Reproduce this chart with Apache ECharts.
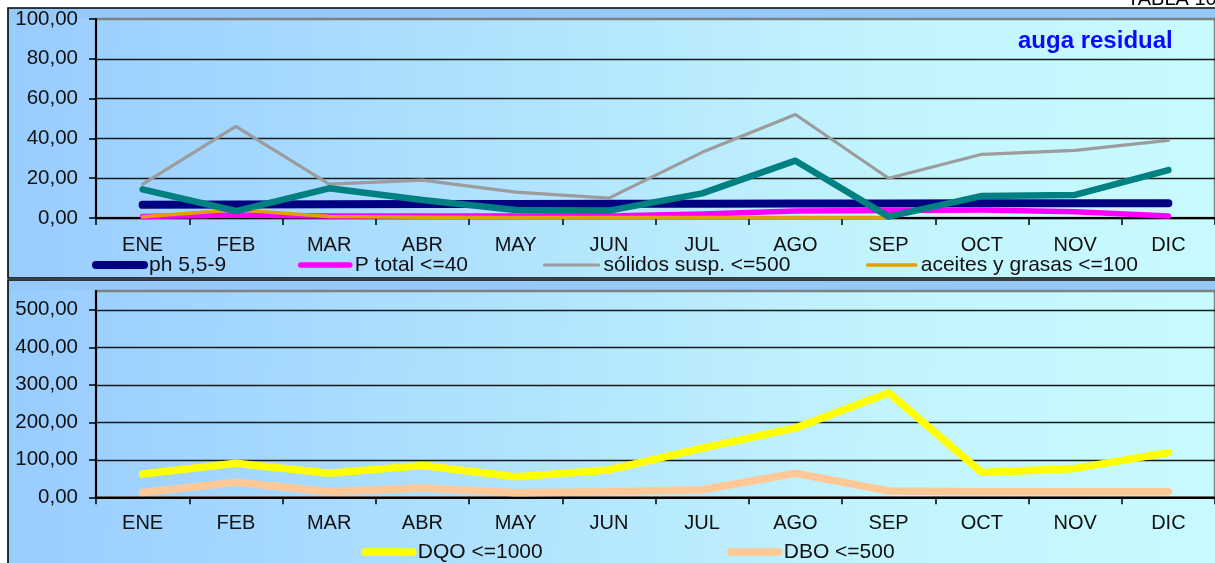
<!DOCTYPE html>
<html>
<head>
<meta charset="utf-8">
<script src="https://cdn.jsdelivr.net/npm/echarts@6/dist/echarts.min.js"></script>
<style>
html,body{margin:0;padding:0;background:#fff;}
#c{width:1215px;height:563px;}
</style>
</head>
<body>
<div id="c"></div>
<script>
// ---- data ----
const categories = ['ENE','FEB','MAR','ABR','MAY','JUN','JUL','AGO','SEP','OCT','NOV','DIC'];
const ph = [6.6, 6.8, 6.9, 7.0, 7.0, 7.1, 7.2, 7.3, 7.3, 7.4, 7.4, 7.4];
const pTotal = [0.8, 1.5, 1.0, 1.0, 1.0, 1.0, 2.0, 3.5, 3.8, 4.0, 3.2, 1.0];
const solidos = [17, 46, 17, 19, 13, 10, 33, 52, 20, 32, 34, 39];
const aceites = [0.6, 4.2, 0.7, 0.4, 0.3, 0.3, 0.3, 0.3, 0.3, null, null, null];
const otro = [14.4, 3.5, 14.9, 9.0, 4.0, 3.7, 12.4, 28.8, 0.7, 11.1, 11.6, 24.1];
const dqo = [62, 91, 64, 85, 55, 73, 131, 185, 279, 66, 77, 119];
const dbo = [13, 40, 15, 25, 12, 15, 20, 64, 17, 15, 15, 15];
const topTicks = [0, 20, 40, 60, 80, 100];
const bottomTicks = [0, 100, 200, 300, 400, 500];
const seriesNames = ['ph 5,5-9', 'P total <=40', 'sólidos susp. <=500', 'aceites y grasas <=100', 'otro', 'DQO <=1000', 'DBO <=500'];

const FF = 'Liberation Sans, Arial, sans-serif';
const fmt = v => v.toFixed(2).replace('.', ',');

const bg = {type:'linear', x:0, y:0, x2:1, y2:0.15, colorStops:[
  {offset:0, color:'#99ccff'}, {offset:0.72, color:'#c2f4fd'}, {offset:1, color:'#c8fbff'}]};

function xAxis(g, margin){
  return {gridIndex:g, type:'category', data:categories, boundaryGap:true,
    axisLine:{show:true, onZero:false, lineStyle:{color:'#000', width:2}},
    axisTick:{show:true, length:7, lineStyle:{color:'#000', width:1.5}},
    axisLabel:{show:true, interval:0, margin:margin, fontSize:20, color:'#111', fontFamily:FF},
    splitLine:{show:false}};
}
function yAxis(g, max, interval, ticks, maxLine){
  return {gridIndex:g, type:'value', min:0, max:max, interval:interval,
    axisLine:{show:true, lineStyle:{color:'#000', width:2}},
    axisTick:{show:true, length:7, customValues:ticks, lineStyle:{color:'#000', width:1.5}},
    axisLabel:{show:true, margin:18, fontSize:20.5, color:'#111', fontFamily:FF, formatter:fmt,
      customValues:ticks, showMaxLabel:true},
    splitLine:{show:true, showMaxLine:maxLine, lineStyle:{color:'#1a1a1a', width:1.3}}};
}
function line(name, data, color, width, xi){
  return {name:name, type:'line', data:data, xAxisIndex:xi, yAxisIndex:xi, symbol:'none',
    color:color, itemStyle:{color:color},
    lineStyle:{color:color, width:width, cap:'round', join:'round'},
    connectNulls:false, silent:true, z:2};
}
function legend(name, left, cy, w){
  return {show:true, data:[name], left:left, top:cy-12, orient:'horizontal', padding:0, itemGap:0,
    itemWidth:w, itemHeight:4, selectedMode:false,
    itemStyle:{opacity:0, borderWidth:0},
    lineStyle:{width:'inherit', cap:'round'},
    textStyle:{fontSize:21, lineHeight:24, color:'#111', fontFamily:FF}};
}

const chart = echarts.init(document.getElementById('c'), null, {renderer:'canvas'});
chart.setOption({
  animation:false,
  backgroundColor:'transparent',
  graphic:[
    {type:'rect', z:-10, shape:{x:8, y:8, width:1220, height:270}, style:{fill:bg, stroke:'#000', lineWidth:1.6}},
    {type:'rect', z:-9, shape:{x:9, y:9, width:1215, height:10}, style:{fill:'#96c8f8'}},
    {type:'rect', z:-10, shape:{x:8, y:280, width:1220, height:300}, style:{fill:bg, stroke:'#000', lineWidth:1.6}},
    {type:'rect', z:-9, shape:{x:9, y:281, width:1215, height:9.5}, style:{fill:'#96c8f8'}},
    {type:'text', z:5, style:{text:'TABLA 10', x:1127, y:-1, fill:'#000', font:'20px ' + FF, verticalAlign:'middle'}},
    {type:'text', z:5, style:{text:'auga residual', x:1018, y:41, fill:'#0a0aff', font:'bold 24px ' + FF, verticalAlign:'middle'}}
  ],
  grid:[
    {left:96, top:19, width:1121, height:199, show:true, borderColor:'#808080', borderWidth:2.5, backgroundColor:'transparent'},
    {left:96, top:291, width:1121, height:206.3, show:true, borderColor:'#808080', borderWidth:2.5, backgroundColor:'transparent'}
  ],
  xAxis:[xAxis(0, 17), xAxis(1, 16)],
  yAxis:[yAxis(0, 100, 20, topTicks, false), yAxis(1, 550, 100, bottomTicks, true)],
  legend:[
    legend(seriesNames[0], 92, 265, 48),
    legend(seriesNames[1], 298, 265, 49),
    legend(seriesNames[2], 543, 265, 54),
    legend(seriesNames[3], 866, 265, 48),
    legend(seriesNames[5], 361, 552, 48),
    legend(seriesNames[6], 727, 552, 48)
  ],
  series:[
    line(seriesNames[0], ph, '#000080', 8, 0),
    line(seriesNames[1], pTotal, '#ff00ff', 5.5, 0),
    line(seriesNames[2], solidos, '#9c9c9c', 3.2, 0),
    line(seriesNames[3], aceites, '#e0a000', 3.5, 0),
    line(seriesNames[4], otro, '#008080', 6.5, 0),
    line(seriesNames[5], dqo, '#ffff00', 7.5, 1),
    line(seriesNames[6], dbo, '#ffc896', 7.5, 1)
  ]
});
</script>
</body>
</html>
